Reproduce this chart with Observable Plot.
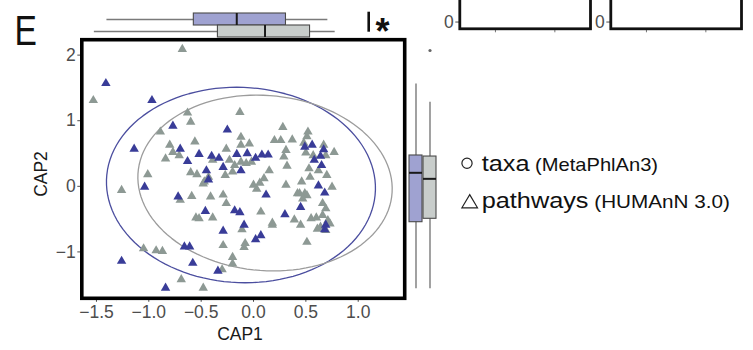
<!DOCTYPE html>
<html><head><meta charset="utf-8">
<script src="https://cdn.jsdelivr.net/npm/d3@7"></script>
<script src="https://cdn.jsdelivr.net/npm/@observablehq/plot@0.6"></script>
<style>
html,body{margin:0;padding:0;background:#fff;}
#wrap{position:relative;width:753px;height:350px;overflow:hidden;background:#fff;font-family:"Liberation Sans",Arial,sans-serif;}
#wrap svg{position:absolute;max-width:none;}
</style></head>
<body><div id="wrap"></div>
<script>
// ---- data: pathway samples, CAP ordination ----
const blueX = [-1.41,-0.97,-0.77,-1.14,-0.25,-0.70,-0.63,-0.52,-0.40,-0.33,-0.45,-0.43,-0.29,-0.16,-0.06,0.02,0.08,0.14,-0.12,-1.04,-0.72,0.12,-0.46,-0.18,-0.13,-0.09,-0.29,0.02,0.07,0.30,0.45,-1.26,-0.66,-0.61,-0.58,-0.34,-0.84,0.49,0.56,0.67,0.64,0.58,0.65,0.62,0.68,0.68,0.69];
const blueY = [1.57,1.31,0.92,0.57,0.86,0.57,0.38,0.49,0.46,0.43,0.24,0.10,0.29,0.49,0.50,0.43,0.48,0.48,0.24,-0.01,-0.16,-0.13,-0.38,-0.37,-0.40,-0.59,-0.68,-0.81,-0.75,-0.43,-0.32,-1.14,-0.92,-0.92,-1.17,-1.29,-1.55,0.60,0.63,0.56,0.46,0.40,0.32,0.01,-0.10,-0.66,-0.59];
const greyX = [-0.68,-1.53,-0.13,-0.63,-0.60,-0.89,-1.01,-1.26,-0.80,-0.84,-0.77,-0.71,-0.56,-0.60,-0.54,-0.48,-0.39,-0.43,-0.26,-0.23,-0.18,-0.27,-0.20,-0.12,-0.12,-0.04,-0.07,-0.02,-0.12,-0.59,-0.41,-0.29,-0.26,-0.55,-0.52,-0.39,-0.70,0.00,0.06,0.10,0.03,0.15,0.07,-0.11,-0.08,-0.09,-0.29,-0.20,-0.20,-0.30,-1.05,-0.93,-0.87,-0.69,-0.48,0.18,0.18,0.20,0.28,0.26,0.37,0.31,0.29,0.32,0.31,0.39,0.45,0.48,0.52,0.51,0.50,0.46,0.42,0.49,0.53,0.54,0.51,0.55,0.51,0.60,0.57,0.62,0.67,0.69,0.70,0.77,0.75,0.66,0.69,0.66,0.71,0.61,0.69,0.73,0.44,0.47,0.64,-0.47];
const greyY = [2.09,1.31,1.13,1.12,0.98,0.83,0.18,-0.06,0.63,0.42,0.52,0.47,0.68,0.21,0.18,0.04,0.40,0.14,0.57,0.40,0.32,0.17,0.22,0.75,0.63,0.65,0.35,0.37,0.37,-0.15,-0.16,-0.13,-0.26,-0.48,-0.49,-0.48,-0.21,0.02,0.05,0.12,-0.04,0.24,-0.39,-0.66,-0.87,-0.93,-0.90,-1.08,-1.18,-1.27,-0.95,-0.98,-0.99,-1.42,-1.55,-0.56,-0.59,0.70,0.90,0.70,0.71,0.55,0.45,0.31,0.02,-0.51,-0.59,0.66,0.83,0.76,0.51,0.07,-0.11,-0.11,0.27,0.14,-0.14,-0.49,-0.85,-0.48,0.47,0.24,0.63,0.47,0.17,0.52,-0.01,-0.26,-0.34,-0.44,-0.52,-0.65,-0.67,-0.57,-0.11,-0.19,-0.62,0.07];

// ---- confidence ellipses (stat summary per group) ----
const ellipseGroup = ["blue","grey"];
const ellipseCx = [-0.12, 0.11];
const ellipseCy = [0.02, 0.05];
const ellipseRx = [1.284, 1.212];
const ellipseRy = [1.49, 1.34];
const ellipseShear = [-0.04, -0.08];

// ---- marginal boxplot summaries ----
const boxGroups = ["blue","grey"];
const boxXLo  = [-1.40, -1.52];
const boxXQ1  = [-0.57, -0.34];
const boxXMed = [-0.16,  0.11];
const boxXQ3  = [ 0.31,  0.54];
const boxXHi  = [ 0.71,  0.78];
const boxYLo  = [-1.56, -1.56];
const boxYQ1  = [-0.547,-0.495];
const boxYMed = [ 0.206, 0.114];
const boxYQ3  = [ 0.47,  0.454];
const boxYHi  = [ 1.56,  1.28];
const outlierGroup = ["grey"];
const outlierY = [2.07];

// ---- axes ----
const xTicks = [-1.5,-1.0,-0.5,0.0,0.5,1.0];
const yTicks = [-1,0,1,2];
const fragYTicks = [0];
const fragXTicks = [1,2];

// ---- styling ----
const pointColor = {blue:"#393c98", grey:"#8d9994"};
const ellipseColor = {blue:"#4b4e9f", grey:"#9c9c9c"};
const boxFill = {blue:"#9fa2d1", grey:"#c8cdcb"};
const fontFam = "Liberation Sans, Arial, sans-serif";
const minus = s => s.replace("-", "\u2212");

const xDomain = [-1.64, 1.444];
const yDomain = [-1.707, 2.235];
const M = {left:81.3, right:348.8, top:39.2, bottom:52.2};

const pts = [
  ...blueX.map((x,i)=>({group:"blue", x, y:blueY[i]})),
  ...greyX.map((x,i)=>({group:"grey", x, y:greyY[i]}))
];
const ellipsePts = [];
ellipseGroup.forEach((g,i)=>{
  for (let k=0;k<=120;k++){
    const t = 2*Math.PI*k/120;
    ellipsePts.push({group:g, x: ellipseCx[i] + ellipseRx[i]*Math.cos(t) + ellipseShear[i]*Math.sin(t), y: ellipseCy[i] + ellipseRy[i]*Math.sin(t)});
  }
});
const boxX = boxGroups.map((g,i)=>({group:g, lo:boxXLo[i], q1:boxXQ1[i], med:boxXMed[i], q3:boxXQ3[i], hi:boxXHi[i], fill:boxFill[g]}));
const boxY = boxGroups.map((g,i)=>({group:g, lo:boxYLo[i], q1:boxYQ1[i], med:boxYMed[i], q3:boxYQ3[i], hi:boxYHi[i], fill:boxFill[g]}));
const outliers = outlierGroup.map((g,i)=>({group:g, y:outlierY[i]}));

const baseStyle = {background:"transparent", fontFamily:fontFam, overflow:"visible"};
const wrap = document.getElementById("wrap");
function place(el, left, top){ el.style.left = left+"px"; el.style.top = top+"px"; el.style.position="absolute"; wrap.appendChild(el); }

// neighbouring panels (cut off at the top)
function fragment(){
  return Plot.plot({
    width:170, height:100, marginLeft:29.3, marginRight:10, marginTop:5, marginBottom:3.7,
    x:{domain:[0.4,2.6]}, y:{domain:[-0.08,1]},
    style:{...baseStyle, fontSize:"17px", color:"#4d4d4d"},
    marks:[
      Plot.axisX({ticks:fragXTicks, tickSize:4, tickFormat:()=>"", label:null, color:"#777"}),
      Plot.axisY({ticks:fragYTicks, tickSize:4, tickPadding:2, label:null, fontSize:17.5, tickFormat:d=>String(d)}),
      Plot.frame({stroke:"#111", strokeWidth:2.8})
    ]
  });
}
place(fragment(), 430, -68);
place(fragment(), 581.4, -68);

// main scatter
const main = Plot.plot({
  width:753, height:350, marginLeft:M.left, marginRight:M.right, marginTop:M.top, marginBottom:M.bottom,
  x:{domain:xDomain}, y:{domain:yDomain},
  style:{...baseStyle, fontSize:"17px", color:"#4d4d4d"},
  marks:[
    Plot.line(ellipsePts.filter(d=>d.group==="blue"), {x:"x", y:"y", stroke:ellipseColor.blue, strokeWidth:1.3}),
    Plot.line(ellipsePts.filter(d=>d.group==="grey"), {x:"x", y:"y", stroke:ellipseColor.grey, strokeWidth:1.3}),
    Plot.dot(pts.filter(d=>d.group==="grey"), {x:"x", y:"y", symbol:"triangle", r:3.5, fill:pointColor.grey}),
    Plot.dot(pts.filter(d=>d.group==="blue"), {x:"x", y:"y", symbol:"triangle", r:3.5, fill:pointColor.blue}),
    Plot.axisX({ticks:xTicks, tickSize:4, tickPadding:3, label:null, fontSize:17.5, tickFormat:d=>minus(d.toFixed(1))}),
    Plot.axisY({ticks:yTicks, tickSize:4, tickPadding:2, label:null, fontSize:17.5, tickFormat:d=>minus(String(d))}),
    Plot.frame({stroke:"#000", strokeWidth:3.6})
  ]
});
place(main, 0, 0);

// top marginal boxplot (CAP1)
const topBox = Plot.plot({
  width:753, height:40, marginLeft:M.left, marginRight:M.right, marginTop:12.5, marginBottom:3,
  x:{domain:xDomain, axis:null}, y:{domain:boxGroups, padding:0.04, axis:null},
  color:{type:"identity"},
  style:baseStyle,
  marks:[
    Plot.ruleY(boxX, {y:"group", x1:"lo", x2:"hi", stroke:"#7a7a7a", strokeWidth:1.4}),
    Plot.barX(boxX, {y:"group", x1:"q1", x2:"q3", fill:"fill", stroke:"#4a4a4a", strokeWidth:1.1}),
    Plot.tickX(boxX, {y:"group", x:"med", stroke:"#1a1a1a", strokeWidth:2})
  ]
});
place(topBox, 0, 0);

// right marginal boxplot (CAP2)
const rightBox = Plot.plot({
  width:60, height:350, marginLeft:8, marginRight:22, marginTop:M.top, marginBottom:M.bottom,
  y:{domain:yDomain, axis:null}, x:{domain:boxGroups, padding:0.04, axis:null},
  color:{type:"identity"},
  style:baseStyle,
  marks:[
    Plot.ruleX(boxY, {x:"group", y1:"lo", y2:"hi", stroke:"#7a7a7a", strokeWidth:1.4}),
    Plot.barY(boxY, {x:"group", y1:"q1", y2:"q3", fill:"fill", stroke:"#4a4a4a", strokeWidth:1.1}),
    Plot.tickY(boxY, {x:"group", y:"med", stroke:"#1a1a1a", strokeWidth:2}),
    Plot.dot(outliers, {x:"group", y:"y", r:1.6, fill:"#666"})
  ]
});
place(rightBox, 400, 0);

// text overlay: panel letter, axis titles, significance mark, legend
const ns = "http://www.w3.org/2000/svg";
const ov = document.createElementNS(ns, "svg");
ov.setAttribute("width", 753); ov.setAttribute("height", 350);
ov.setAttribute("font-family", fontFam);
ov.innerHTML = `
  <g transform="translate(14.5,45) scale(0.8,1)"><text font-size="42" fill="#111">E</text></g>
  <text x="240" y="340" text-anchor="middle" font-size="17.5" fill="#1a1a1a">CAP1</text>
  <text transform="translate(46.5,174) rotate(-90)" text-anchor="middle" font-size="17.5" fill="#1a1a1a">CAP2</text>
  <line x1="368.7" x2="368.7" y1="11.7" y2="31.7" stroke="#111" stroke-width="2.6"/>
  <text x="375.5" y="43.5" font-size="36" font-weight="bold" fill="#111">*</text>
  <circle cx="467" cy="163.3" r="5.1" fill="none" stroke="#222" stroke-width="1.2"/>
  <g transform="translate(481.7,171) scale(1.15,1)"><text font-size="22" fill="#111">taxa<tspan font-size="17.5"> (MetaPhlAn3)</tspan></text></g>
  <polygon points="469.7,194.6 477.5,207.8 461.9,207.8" fill="none" stroke="#222" stroke-width="1.2"/>
  <g transform="translate(481.7,208.3) scale(1.15,1)"><text font-size="22" fill="#111">pathways<tspan font-size="18"> (HUMAnN 3.0)</tspan></text></g>
`;
place(ov, 0, 0);
</script>
</body></html>
